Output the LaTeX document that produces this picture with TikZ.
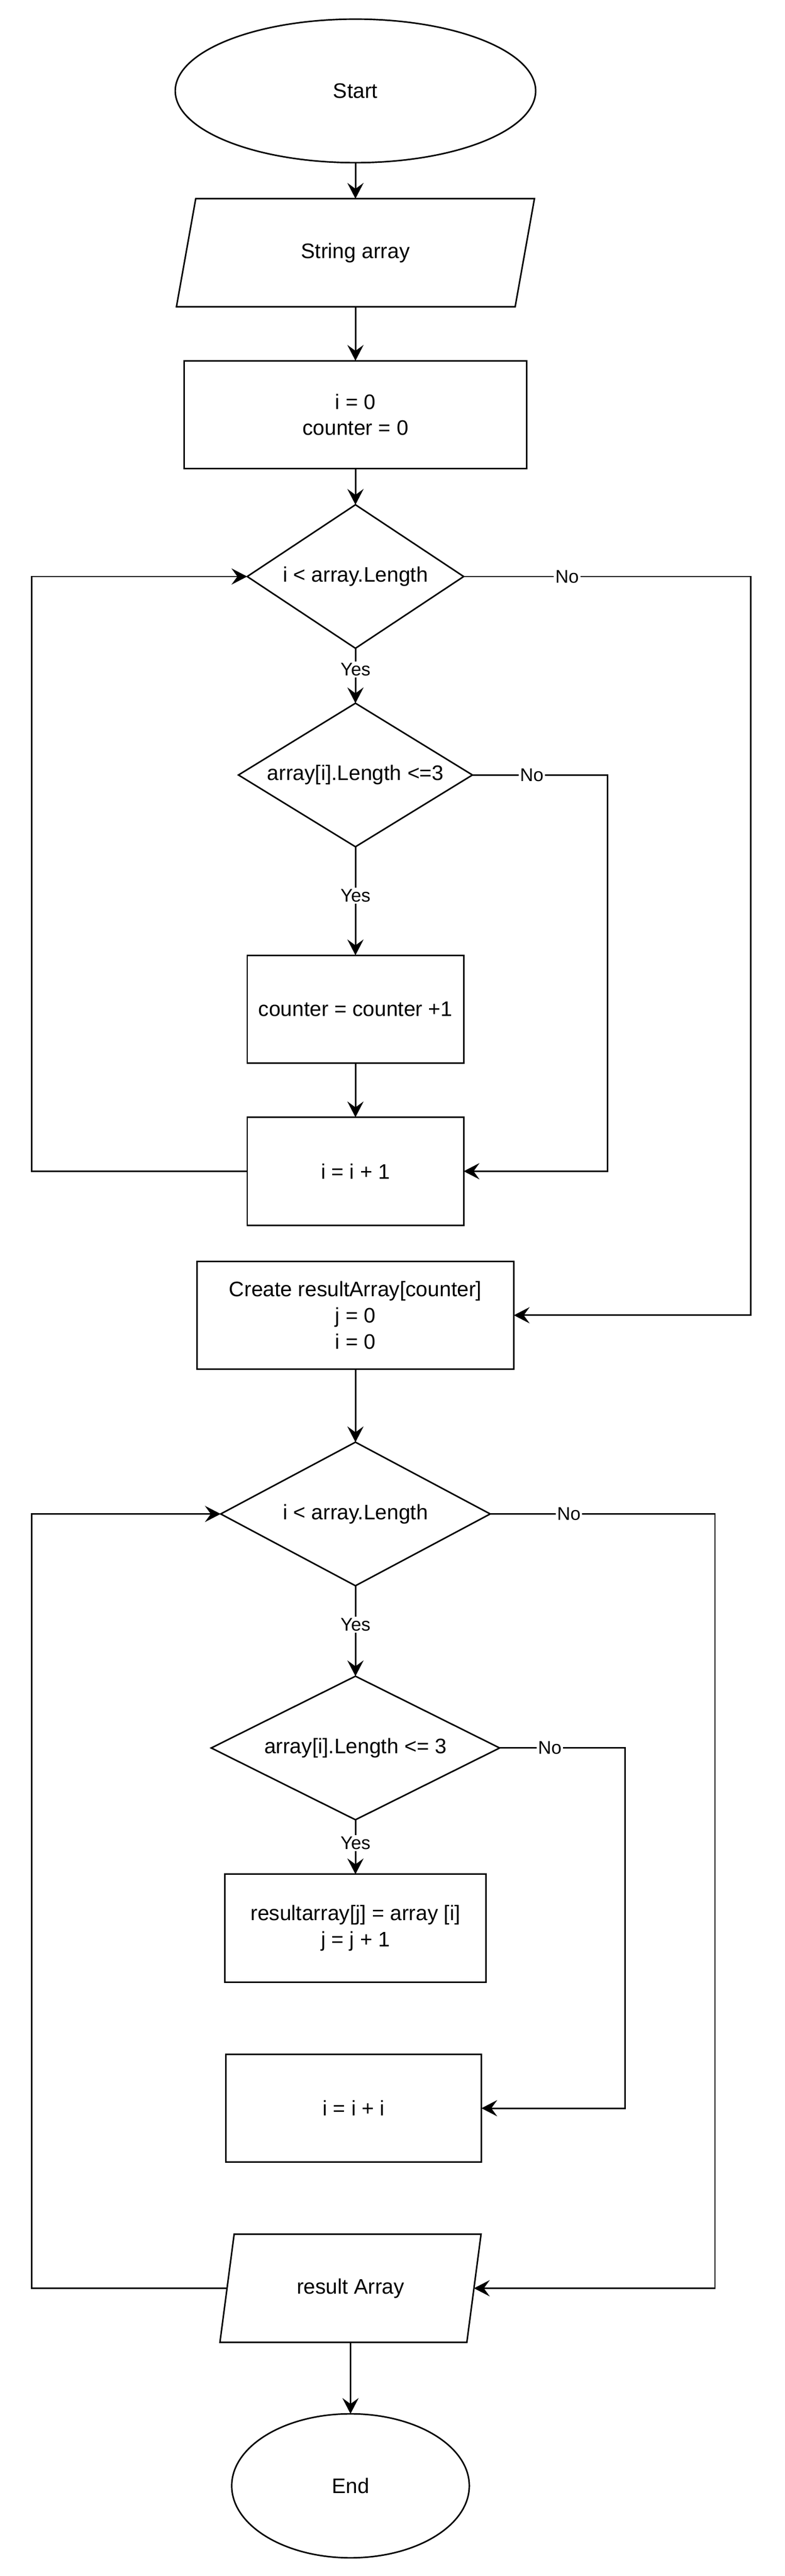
\documentclass[tikz,border=0pt]{standalone}
\usepackage{fontspec}
\setmainfont{Liberation Sans}
\usetikzlibrary{shapes.geometric,positioning,arrows.meta}

\begin{document}
\begin{tikzpicture}[line width=0.95pt,
  every node/.style = {font=\fontsize{13.3}{16.5}\selectfont, outer sep=0pt},
  terminal/.style = {ellipse, draw, inner sep=0pt},
  io/.style = {trapezium, trapezium left angle=71.5, trapezium right angle=108.5,
    trapezium stretches=true, draw, inner sep=0pt, minimum height=2.4cm},
  process/.style = {rectangle, draw, align=center, inner sep=0pt, minimum height=2.4cm},
  decision/.style = {diamond, draw, inner sep=0pt, minimum height=3.19cm},
  line/.style = {draw, -{Stealth[length=3.5mm, width=3.6mm, inset=1.3mm]}},
  lbl/.style = {fill=white, inner sep=1pt, font=\fontsize{11.6}{14}\selectfont}]
  \useasboundingbox (0,0) rectangle (17.44,-57.24);
  \node[terminal, minimum width=8.01cm, minimum height=3.19cm] (start) at (7.90,-2.02) {Start};
  \node[io, minimum width=8.01cm, below=0.8cm of start] (input) {String array};
  \node[process, minimum width=7.61cm, below=1.2cm of input] (init) {i = 0\\counter = 0};
  \node[decision, minimum width=4.81cm, shape aspect=1.51, below=0.8cm of init] (cond1) {i < array.Length};
  \node[decision, minimum width=5.2cm, shape aspect=1.63, below=1.22cm of cond1] (len1) {array[i].Length <=3};
  \node[process, minimum width=4.81cm, below=2.41cm of len1] (count) {counter = counter +1};
  \node[process, minimum width=4.81cm, below=1.2cm of count] (inc1) {i = i + 1};
  \node[process, minimum width=7.04cm, below=0.8cm of inc1] (create) {Create resultArray[counter]\\j = 0\\i = 0};
  \node[decision, minimum width=5.99cm, shape aspect=1.88, below=1.62cm of create] (cond2) {i < array.Length};
  \node[decision, minimum width=6.41cm, shape aspect=2, below=2.01cm of cond2] (len2) {array[i].Length <= 3};
  \node[process, minimum width=5.81cm, below=1.21cm of len2] (copy) {resultarray[j] = array [i]\\j = j + 1};
  \node[process, minimum width=5.68cm, below=1.6cm of copy, xshift=-0.04cm] (inc2) {i = i + i};
  \node[io, minimum width=5.81cm, below=1.6cm of inc2, xshift=-0.07cm] (output) {result Array};
  \node[terminal, minimum width=5.28cm, minimum height=3.2cm, below=1.59cm of output] (end) {End};

  \coordinate (lx) at (0.70,0);
  \coordinate (rx1) at (16.69,0);
  \coordinate (rx2) at (13.50,0);
  \coordinate (rx3) at (15.89,0);
  \coordinate (rx4) at (13.89,0);

  \draw[line] (start.south) -- (input.north);
  \draw[line] (input.south) -- (init.north);
  \draw[line] (init.south) -- (cond1.north);
  \draw[line] (cond1.south) -- node[lbl, pos=0.39] {Yes} (len1.north);
  \draw[line] (cond1.east) -- node[lbl, pos=0.36] {No} (cond1.east -| rx1) |- (create.east);
  \draw[line] (len1.south) -- node[lbl, pos=0.45] {Yes} (count.north);
  \draw[line] (len1.east) -- node[lbl, pos=0.44] {No} (len1.east -| rx2) |- (inc1.east);
  \draw[line] (count.south) -- (inc1.north);
  \draw[line] (inc1.west) -- (inc1.west -| lx) |- (cond1.west);
  \draw[line] (create.south) -- (cond2.north);
  \draw[line] (cond2.south) -- node[lbl, pos=0.43] {Yes} (len2.north);
  \draw[line] (cond2.east) -- node[lbl, pos=0.35] {No} (cond2.east -| rx3) |- (output.east);
  \draw[line] (len2.south) -- node[lbl, pos=0.43] {Yes} (copy.north);
  \draw[line] (len2.east) -- node[lbl, pos=0.40] {No} (len2.east -| rx4) |- (inc2.east);
  \draw[line] (output.west) -- (output.west -| lx) |- (cond2.west);
  \draw[line] (output.south) -- (end.north);
\end{tikzpicture}
\end{document}
